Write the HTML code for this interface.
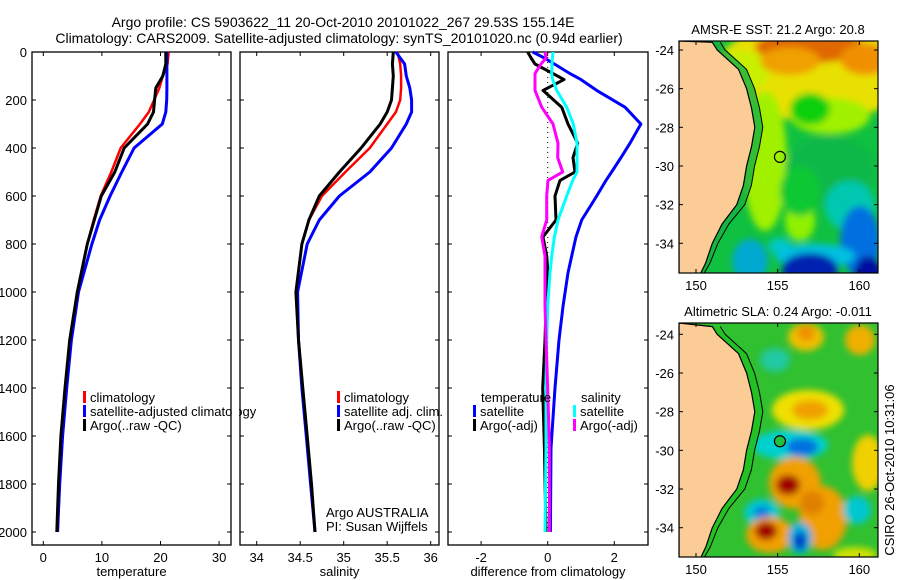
<!DOCTYPE html>
<html><head><meta charset="utf-8">
<style>
body{margin:0;background:#fff;}
svg{display:block;font-family:"Liberation Sans",sans-serif;}
text{fill:#000;}
</style></head>
<body>
<svg id="fig" width="900" height="580" viewBox="0 0 900 580" xmlns="http://www.w3.org/2000/svg">
<defs>
<filter id="blur" x="-20%" y="-20%" width="140%" height="140%"><feGaussianBlur stdDeviation="3.5"/></filter>
<clipPath id="clipSST"><rect x="679" y="41" width="199" height="232"/></clipPath>
<clipPath id="clipSLA"><rect x="679" y="323" width="199" height="234"/></clipPath>
</defs>
<text x="343" y="27" font-size="14" text-anchor="middle">Argo profile: CS 5903622_11 20-Oct-2010 20101022_267 29.53S 155.14E</text>
<text x="339" y="43" font-size="14" text-anchor="middle">Climatology: CARS2009. Satellite-adjusted climatology: synTS_20101020.nc (0.94d earlier)</text>
<g id="panels"></g>
<g id="maps"></g>
<text transform="translate(894,470) rotate(-90)" font-size="13" text-anchor="middle">CSIRO 26-Oct-2010 10:31:06</text>
</svg>
<script>
// ---- data ----
const depths = [0,50,100,150,200,250,300,400,500,600,700,800,1000,1200,1400,1600,1800,2000];
const tempClim = [21.4,21.2,20.4,19.8,18.9,18.0,16.5,13.2,11.6,9.8,8.6,7.5,5.8,4.6,3.9,3.2,2.8,2.5];
const tempSat  = [21.1,21.1,21.1,21.1,21.05,20.9,20.3,15.5,13.4,11.4,9.6,8.3,6.0,4.8,4.0,3.3,2.8,2.4];
const tempArgo = [20.9,20.9,20.4,19.2,19.0,18.8,17.8,13.8,12.2,9.9,8.7,7.5,5.8,4.5,3.7,3.0,2.6,2.3];
const salClim = [35.62,35.65,35.66,35.66,35.65,35.6,35.5,35.3,35.02,34.75,34.6,34.52,34.45,34.48,34.52,34.57,34.62,34.67];
const salSat  = [35.6,35.7,35.72,35.76,35.78,35.78,35.72,35.55,35.3,34.95,34.72,34.58,34.47,34.48,34.52,34.57,34.62,34.67];
const salArgo = [35.57,35.56,35.57,35.56,35.55,35.5,35.42,35.2,34.95,34.72,34.6,34.52,34.45,34.48,34.53,34.58,34.63,34.67];
const diffDepths = [0,25,50,90,115,160,230,300,380,440,500,535,600,700,770,850,920,1060,1200,1400,1650,2000];
const dTempSat  = [-0.45,-0.1,0.2,0.67,1.0,1.47,2.32,2.8,2.47,2.2,1.92,1.75,1.47,1.02,0.85,0.72,0.61,0.46,0.34,0.22,0.1,0.08];
const dTempArgo = [-0.6,-0.5,-0.38,0.16,0.49,-0.14,0.42,0.61,0.9,0.76,0.82,0.37,0.22,0.25,-0.14,-0.03,0.01,-0.05,-0.08,-0.15,-0.1,-0.05];
const dSalSat   = [0.16,0.14,0.13,0.12,0.15,0.27,0.57,0.77,0.88,0.88,0.88,0.75,0.57,0.31,0.2,0.12,0.07,0.0,-0.03,-0.05,-0.05,-0.08];
const dSalArgo  = [-0.08,-0.05,-0.2,-0.38,-0.38,-0.38,-0.18,0.16,0.31,0.3,0.45,0.01,-0.03,-0.03,-0.18,-0.08,-0.08,-0.08,-0.05,0.0,0.05,0.05];
const depthTicks = [0,200,400,600,800,1000,1200,1400,1600,1800,2000];
const tempTicks = [0,10,20,30];
const salTicks = [34,34.5,35,35.5,36];
const salTickLabels = ["34","34.5","35","35.5","36"];
const diffTicks = [-2,0,2];
const lonTicks = [150,155,160];
const latTicks = [-24,-26,-28,-30,-32,-34];

const NS='http://www.w3.org/2000/svg';
function mk(tag, attrs, parent, txt){
  const e=document.createElementNS(NS,tag);
  for(const k in attrs) e.setAttribute(k,attrs[k]);
  if(txt!==undefined) e.textContent=txt;
  parent.appendChild(e); return e;
}
const yD = d => 52 + d*0.24;
const panelsG = document.getElementById('panels');

function panel(name, x0, x1, xmin, xmax, xScale, ticks, tickLabels, xTitle, showY){
  const g = mk('g',{},panelsG);
  
  
  const fr = mk('rect',{x:x0,y:52,width:x1-x0,height:493,fill:'none',stroke:'#000','stroke-width':1.3},g);
  
  
  ticks.forEach((t,i)=>{
    const x = xScale(t);
    mk('line',{x1:x,x2:x,y1:52,y2:56,stroke:'#000'},g);
    mk('line',{x1:x,x2:x,y1:545,y2:541,stroke:'#000'},g);
    const tl = mk('text',{x:x,y:562,'font-size':13,'text-anchor':'middle'},g,tickLabels[i]);
    
    
  });
  depthTicks.forEach(d=>{
    const y=yD(d);
    mk('line',{x1:x0,x2:x0+4,y1:y,y2:y,stroke:'#000'},g);
    mk('line',{x1:x1,x2:x1-4,y1:y,y2:y,stroke:'#000'},g);
    if(showY){
      const tl = mk('text',{x:27,y:y+5,'font-size':13,'text-anchor':'end'},g,String(d));
      
      
    }
  });
  const tt = mk('text',{x:(x0+x1)/2,y:576,'font-size':13,'text-anchor':'middle'},g,xTitle);
  
  
  return g;
}
function line(g, name, ds, vals, xScale, color, w){
  const p = ds.map((d,i)=>(i?'L':'M')+xScale(vals[i]).toFixed(1)+','+yD(d).toFixed(1)).join('');
  const e = mk('path',{d:p,fill:'none',stroke:color,'stroke-width':w,'stroke-linejoin':'round'},g);
  
  
}
function legend(g, name, x, y, color, label){
  const lg = mk('g',{},g);
  
  
  mk('rect',{x:x,y:y-11,width:3,height:12,fill:color},lg);
  mk('text',{x:x+7,y:y,'font-size':13},lg,label);
}

// Panel 1: temperature
const xT = v => 43.3 + v*5.86;
const p1 = panel('temperature-panel',32,231,0,30,xT,tempTicks,tempTicks.map(String),'temperature',true);
line(p1,'temperature-climatology-line',depths,tempClim,xT,'#ff0000',2.5);
line(p1,'temperature-satellite-line',depths,tempSat,xT,'#0000ff',3);
line(p1,'temperature-argo-line',depths,tempArgo,xT,'#000000',3);
legend(p1,'legend-climatology',83,402,'#ff0000','climatology');
legend(p1,'legend-satellite-adjusted',83,416,'#0000ff','satellite-adjusted climatology');
legend(p1,'legend-argo',83,430,'#000000','Argo(..raw -QC)');
mk('rect',{x:232,y:400,width:7,height:20,fill:'#fff'},p1);

// Panel 2: salinity
const xS = v => 256.7 + (v-34)*87;
const p2 = panel('salinity-panel',240,439,34,36.2,xS,salTicks,salTickLabels,'salinity',false);
line(p2,'salinity-climatology-line',depths,salClim,xS,'#ff0000',2.5);
line(p2,'salinity-satellite-line',depths,salSat,xS,'#0000ff',3);
line(p2,'salinity-argo-line',depths,salArgo,xS,'#000000',3);
legend(p2,'legend-sal-climatology',337,402,'#ff0000','climatology');
legend(p2,'legend-sal-satellite',337,416,'#0000ff','satellite adj. clim.');
legend(p2,'legend-sal-argo',337,430,'#000000','Argo(..raw -QC)');
const a1=mk('text',{x:326,y:517,'font-size':13},p2,'Argo AUSTRALIA');
 
const a2=mk('text',{x:326,y:531,'font-size':13},p2,'PI: Susan Wijffels');
 

// Panel 3: differences
const xDf = v => 547.7 + v*33.3;
const p3 = panel('difference-panel',448,648,-3,3,xDf,diffTicks,diffTicks.map(String),'difference from climatology',false);
const zl = mk('line',{x1:547.7,x2:547.7,y1:52,y2:532,stroke:'#000','stroke-dasharray':'1,4'},p3);
 
line(p3,'diff-temperature-satellite-line',diffDepths,dTempSat,xDf,'#0000ff',3);
line(p3,'diff-temperature-argo-line',diffDepths,dTempArgo,xDf,'#000000',3);
line(p3,'diff-salinity-satellite-line',diffDepths,dSalSat,xDf,'#00ffff',3);
line(p3,'diff-salinity-argo-line',diffDepths,dSalArgo,xDf,'#ff00ff',3);
const lt1=mk('text',{x:481,y:402,'font-size':13},p3,'temperature');
 
const lt2=mk('text',{x:581,y:402,'font-size':13},p3,'salinity');
 
legend(p3,'legend-diff-temp-satellite',473,416,'#0000ff','satellite');
legend(p3,'legend-diff-temp-argo',473,430,'#000000','Argo(-adj)');
legend(p3,'legend-diff-sal-satellite',573,416,'#00ffff','satellite');
legend(p3,'legend-diff-sal-argo',573,430,'#ff00ff','Argo(-adj)');

// ---- maps ----
const mapsG = document.getElementById('maps');
function makeMap(name, top, bottom, lat24y, lat34y, title, bg, blobs, circleFill){
  const g = mk('g',{},mapsG);
  
  
  const lonX = lon => 696 + (lon-150)*16.33;
  const latY = lat => lat24y + (-lat-24)*(lat34y-lat24y)/10;
  const clip = name==='sst-map'?'url(#clipSST)':'url(#clipSLA)';
  const field = mk('g',{'clip-path':clip},g);
  mk('rect',{x:679,y:top,width:199,height:bottom-top,fill:bg},field);
  const bg2 = mk('g',{filter:'url(#blur)'},field);
  blobs.forEach(b=>mk('ellipse',{cx:b[0],cy:top+b[1],rx:b[2],ry:b[3],fill:b[4]},bg2));
  const coast = [[-23.6,151.0],[-24,151.3],[-25,152.6],[-26,153.1],[-27,153.4],[-28,153.6],[-29,153.4],[-30,153.1],[-31,152.9],[-32,152.5],[-33,151.6],[-34,151.0],[-35,150.6],[-35.7,150.2]];
  // shelf band (darker green) between coast and shelf line
  let band='';
  coast.forEach((c,i)=>{band+=(i?'L':'M')+lonX(c[1]).toFixed(1)+','+latY(c[0]).toFixed(1);});
  for(let i=coast.length-1;i>=0;i--){const c=coast[i];band+='L'+(lonX(c[1])+8-(i>9?(i-9)*1.2:0)).toFixed(1)+','+latY(c[0]).toFixed(1);}
  mk('path',{d:band+'Z',fill:name==='sst-map'?'#18b040':'#20c020','fill-opacity':0.8},field);
  let lp = 'M679,'+top;
  coast.forEach(c=>{lp+='L'+lonX(c[1]).toFixed(1)+','+latY(c[0]).toFixed(1);});
  lp += 'L679,'+bottom+'Z';
  const land = mk('path',{d:lp,fill:'#fccc96',stroke:'#000','stroke-width':1.2},field);
  
  
  let sp='';
  coast.forEach((c,i)=>{sp+=(i?'L':'M')+(lonX(c[1])+8-(i>9?(i-9)*1.2:0)).toFixed(1)+','+latY(c[0]).toFixed(1);});
  mk('path',{d:sp,fill:'none',stroke:'#000','stroke-width':1},field);
  mk('rect',{x:679,y:top,width:199,height:bottom-top,fill:'none',stroke:'#000','stroke-width':1.2},g);
  lonTicks.forEach(l=>{
    const x=lonX(l);
    mk('line',{x1:x,x2:x,y1:top,y2:top+4,stroke:'#000'},g);
    mk('line',{x1:x,x2:x,y1:bottom,y2:bottom-4,stroke:'#000'},g);
    const t=mk('text',{x:x,y:bottom+17,'font-size':13,'text-anchor':'middle'},g,String(l));
    
    
  });
  latTicks.forEach(l=>{
    const y=latY(l);
    mk('line',{x1:679,x2:683,y1:y,y2:y,stroke:'#000'},g);
    mk('line',{x1:878,x2:874,y1:y,y2:y,stroke:'#000'},g);
    const t=mk('text',{x:674,y:y+5,'font-size':13,'text-anchor':'end'},g,String(l));
    
    
  });
  const c = mk('circle',{cx:lonX(155.14),cy:latY(-29.53),r:5.5,fill:circleFill,stroke:'#000','stroke-width':1.2},g);
  
  
  const tt = mk('text',{x:778,y:top-7,'font-size':13,'text-anchor':'middle'},g,title);
  
  
}
makeMap('sst-map',41,273,50,243.3,'AMSR-E SST: 21.2 Argo: 20.8','#10c040',[
  [815,30,100,50,'#e8e000'],[740,30,30,20,'#c8f000'],
  [810,6,55,16,'#e06800'],[865,18,25,16,'#f09000'],[790,20,30,14,'#f0a000'],
  [765,120,22,70,'#a0f000'],[800,180,15,20,'#90f000'],[830,75,40,18,'#a0f000'],
  [810,68,20,16,'#10d010'],
  [830,130,45,35,'#10b848'],[800,150,20,25,'#10c830'],
  [850,165,25,25,'#00c8b0'],[780,205,12,8,'#00c8c8'],
  [860,200,20,35,'#0070e0'],[815,215,40,12,'#00c0e0'],
  [810,228,28,16,'#0020b0'],[868,240,15,25,'#0010a0'],
  [750,220,18,22,'#00a8d0']
],'none');
makeMap('sla-map',323,557,334.3,527.7,'Altimetric SLA: 0.24 Argo: -0.011','#30c030',[
  [806,14,18,14,'#f0c000'],[806,10,9,8,'#f09000'],[860,17,15,15,'#f0b000'],
  [775,37,15,12,'#20c8a0'],
  [808,87,36,20,'#f0e000'],[810,87,18,10,'#f0a000'],
  [790,122,38,15,'#00d0d0'],[802,124,16,9,'#0070e0'],
  [795,160,26,26,'#f0a000'],[788,162,12,10,'#a00000'],
  [823,195,24,32,'#f0a000'],[812,180,12,12,'#e08000'],
  [762,190,18,14,'#00c8d0'],[762,190,8,7,'#0080e0'],
  [770,212,24,18,'#f0a000'],[766,208,11,9,'#a00000'],
  [800,215,12,16,'#00b0e0'],[800,218,6,9,'#0030c0'],
  [857,187,14,14,'#00c8d0'],[868,140,16,28,'#f0d000'],[855,232,22,8,'#d0e000']
],'#22c040');
</script>
</body></html>
